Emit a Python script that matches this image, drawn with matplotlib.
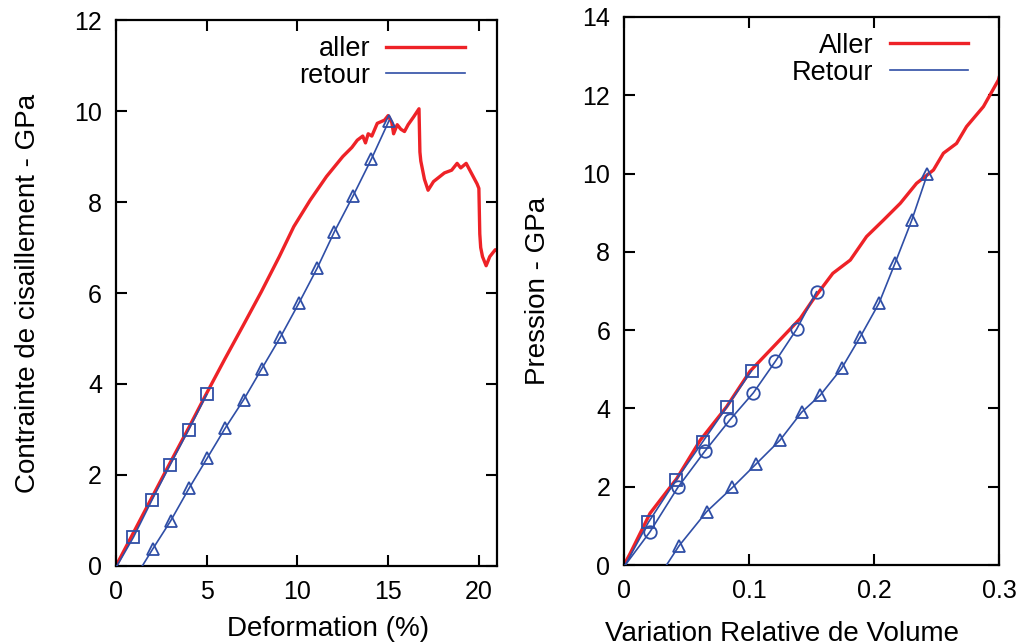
import matplotlib
matplotlib.use("Agg")
import matplotlib.pyplot as plt

plt.rcParams['font.family'] = ['Liberation Sans', 'DejaVu Sans']
plt.rcParams['font.size'] = 18

RED = '#ee2227'
BLUE = '#2f4ea6'

# --- left panel: shear stress vs deformation ---
aller_x = [0, 1, 2, 3, 4, 5, 6, 7, 8, 9, 9.8, 10.7, 11.6, 12.5, 13.0, 13.3, 13.6,
           13.75, 13.9, 14.1, 14.4, 14.8, 15.0, 15.2, 15.3, 15.5, 15.7, 15.9, 16.1,
           16.4, 16.7, 16.75, 16.8, 17.0, 17.2, 17.5, 18.1, 18.5, 18.8, 19.0, 19.3,
           19.5, 19.7, 19.9, 20.0, 20.05, 20.1, 20.2, 20.4, 20.6, 20.9, 21.0]
aller_y = [0, 0.76, 1.52, 2.28, 3.03, 3.8, 4.55, 5.28, 6.02, 6.8, 7.46, 8.04, 8.56,
           9.0, 9.2, 9.36, 9.45, 9.3, 9.5, 9.45, 9.73, 9.8, 9.9, 9.75, 9.5, 9.7,
           9.6, 9.55, 9.7, 9.87, 10.05, 9.1, 8.9, 8.5, 8.26, 8.45, 8.64, 8.7, 8.85,
           8.75, 8.85, 8.7, 8.55, 8.4, 8.3, 7.3, 7.0, 6.8, 6.6, 6.8, 6.95, 6.95]

ret5_x = [0.05, 0.96, 1.97, 2.98, 4.0, 5.0]
ret5_y = [0, 0.63, 1.44, 2.22, 2.99, 3.77]

ret15_x = [1.45, 2.02, 3.01, 4.03, 5.04, 6.02, 7.03, 8.04, 9.06, 10.07, 11.08,
           12.04, 13.06, 14.07, 15.05]
ret15_y = [0, 0.37, 0.99, 1.71, 2.38, 3.03, 3.65, 4.34, 5.03, 5.77, 6.54, 7.35,
           8.13, 8.94, 9.79]

# --- right panel: pressure vs relative volume change ---
p_aller_x = [0, 0.005, 0.0208, 0.042, 0.061, 0.082, 0.1008, 0.122, 0.141, 0.151,
             0.167, 0.181, 0.194, 0.2075, 0.221, 0.234, 0.2475, 0.2555, 0.266,
             0.274, 0.2875, 0.2995, 0.3]
p_aller_y = [0, 0.3, 1.32, 2.2, 3.19, 4.04, 4.95, 5.66, 6.3, 6.77, 7.45, 7.79, 8.39,
             8.81, 9.24, 9.75, 10.09, 10.52, 10.77, 11.2, 11.71, 12.39, 12.45]

p_sq_x = [0.001, 0.0195, 0.0416, 0.063, 0.082, 0.102]
p_sq_y = [0, 1.09, 2.17, 3.15, 4.03, 4.96]

p_ci_x = [0.001, 0.0208, 0.043, 0.0645, 0.0845, 0.1035, 0.121, 0.138, 0.154]
p_ci_y = [0, 0.85, 1.98, 2.9, 3.7, 4.4, 5.2, 6.02, 6.98]

p_tr_x = [0.034, 0.044, 0.066, 0.0867, 0.1056, 0.1248, 0.142, 0.157, 0.174, 0.189,
          0.204, 0.2168, 0.2302, 0.2427]
p_tr_y = [0, 0.49, 1.36, 1.98, 2.58, 3.19, 3.9, 4.34, 5.02, 5.83, 6.69, 7.71, 8.81,
          9.99]

fig = plt.figure(figsize=(10.21, 6.43), dpi=100)
ax1 = fig.add_axes([0.1136, 0.1198, 0.3732, 0.849])
ax2 = fig.add_axes([0.6112, 0.1213, 0.3673, 0.8523])

mk = dict(mfc='none', mec=BLUE, mew=1.3, markersize=9)


def style(ax):
    for s in ax.spines.values():
        s.set_linewidth(1.6)
    ax.tick_params(direction='in', length=8, width=1.5, top=True, right=True,
                   labelsize=18, pad=10)


leg_kw = dict(loc='upper right', frameon=False, markerfirst=False, borderpad=0,
              borderaxespad=0, handlelength=2.9, handletextpad=0.6,
              labelspacing=0.02, fontsize=19.5)

# left
ax1.plot(aller_x, aller_y, color=RED, lw=2.4, label='aller', zorder=2)
ax1.plot(ret5_x, ret5_y, color=BLUE, lw=1.2, marker='s', markevery=slice(1, None),
         zorder=3, **mk)
ax1.plot(ret15_x, ret15_y, color=BLUE, lw=1.2, marker='^', markevery=slice(1, None),
         zorder=3, **mk)
ax1.plot([], [], color=BLUE, lw=1.2, label='retour')
ax1.set_xlim(0, 21)
ax1.set_ylim(0, 12)
ax1.set_xticks([0, 5, 10, 15, 20])
ax1.set_yticks([0, 2, 4, 6, 8, 10, 12])
ax1.set_xlabel('Deformation (%)', fontsize=20)
ax1.set_ylabel('Contrainte de cisaillement - GPa', fontsize=20)
ax1.xaxis.set_label_coords(0.556, -0.091)
ax1.yaxis.set_label_coords(-0.197, 0.5)
style(ax1)
ax1.legend(bbox_to_anchor=(1 - 32 / 381, 1 - 16 / 546), **leg_kw)

# right
ax2.plot(p_aller_x, p_aller_y, color=RED, lw=2.4, label='Aller', zorder=2)
ax2.plot(p_sq_x, p_sq_y, color=BLUE, lw=1.2, marker='s', markevery=slice(1, None),
         zorder=3, **mk)
ax2.plot(p_ci_x, p_ci_y, color=BLUE, lw=1.2, marker='o', markevery=slice(1, None),
         zorder=3, **mk)
ax2.plot(p_tr_x, p_tr_y, color=BLUE, lw=1.2, marker='^', markevery=slice(1, None),
         zorder=3, **mk)
ax2.plot([], [], color=BLUE, lw=1.2, label='Retour')
ax2.set_xlim(0, 0.3)
ax2.set_ylim(0, 14)
ax2.set_xticks([0, 0.1, 0.2, 0.3])
ax2.set_xticklabels(['0', '0.1', '0.2', '0.3'])
ax2.set_yticks([0, 2, 4, 6, 8, 10, 12, 14])
ax2.set_xlabel('Variation Relative de Volume', fontsize=20)
ax2.set_ylabel('Pression - GPa', fontsize=20)
ax2.xaxis.set_label_coords(0.421, -0.103)
ax2.yaxis.set_label_coords(-0.195, 0.5)
style(ax2)
ax2.legend(bbox_to_anchor=(1 - 31 / 375, 1 - 16 / 548), **leg_kw)

fig.savefig('out.png', dpi=100)
